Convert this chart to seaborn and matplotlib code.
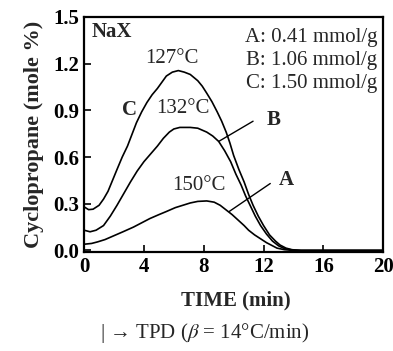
import pandas as pd
import seaborn as sns
import matplotlib.pyplot as plt

# curve readings (time in min, cyclopropane in mole %)
time_a = [0, 0.5, 0.9, 1.4, 2.0, 2.6, 3.3, 3.9, 4.4, 5.0, 5.5, 6.1, 6.6, 7.1, 7.6, 8.2, 8.7, 9.1, 9.5,
          9.9, 10.3, 10.7, 11.0, 11.4, 11.8, 12.2, 12.6, 12.9, 13.4, 14.0, 20]
cyc_a = [0.04, 0.045, 0.055, 0.07, 0.095, 0.12, 0.15, 0.18, 0.205, 0.23, 0.25, 0.275, 0.29, 0.305, 0.315,
         0.318, 0.31, 0.29, 0.26, 0.23, 0.195, 0.16, 0.13, 0.10, 0.075, 0.05, 0.03, 0.015, 0.005, 0.0, 0.0]

time_b = [0, 0.4, 0.8, 1.3, 1.75, 2.2, 2.65, 3.1, 3.55, 4.0, 4.45, 4.9, 5.3, 5.7, 6.0, 6.4, 7.1, 7.6, 8.2,
          8.6, 9.0, 9.4, 9.8, 10.15, 10.5, 10.8, 11.1, 11.45, 11.8, 12.2, 12.6, 13.0, 13.4, 13.9, 14.5, 20]
cyc_b = [0.13, 0.12, 0.13, 0.16, 0.22, 0.29, 0.365, 0.44, 0.51, 0.57, 0.62, 0.67, 0.72, 0.76, 0.78, 0.79,
         0.79, 0.785, 0.76, 0.735, 0.70, 0.64, 0.57, 0.49, 0.42, 0.35, 0.29, 0.22, 0.16, 0.105, 0.06, 0.03,
         0.012, 0.003, 0.0, 0.0]

time_c = [0, 0.3, 0.6, 1.0, 1.3, 1.6, 1.9, 2.2, 2.55, 2.9, 3.2, 3.5, 3.85, 4.2, 4.55, 4.9, 5.2, 5.5, 5.9,
          6.3, 6.7, 7.1, 7.6, 7.9, 8.2, 8.55, 8.9, 9.2, 9.5, 9.75, 10.0, 10.35, 10.7, 11.0, 11.3, 11.65,
          12.0, 12.4, 12.8, 13.1, 13.5, 13.9, 14.5, 20]
cyc_c = [0.28, 0.262, 0.265, 0.29, 0.33, 0.38, 0.45, 0.52, 0.60, 0.67, 0.745, 0.82, 0.89, 0.95, 1.00,
         1.04, 1.08, 1.12, 1.145, 1.155, 1.145, 1.13, 1.09, 1.055, 1.01, 0.955, 0.89, 0.83, 0.76, 0.69,
         0.61, 0.52, 0.44, 0.36, 0.29, 0.22, 0.16, 0.10, 0.06, 0.035, 0.015, 0.005, 0.0, 0.0]

series = ["A", "B", "C"]
loadings = ["0.41", "1.06", "1.50"]
peak_temps = ["150°C", "132°C", "127°C"]

df = pd.concat([
    pd.DataFrame({"time": time_a, "cyc": cyc_a, "sample": "A"}),
    pd.DataFrame({"time": time_b, "cyc": cyc_b, "sample": "B"}),
    pd.DataFrame({"time": time_c, "cyc": cyc_c, "sample": "C"}),
])

sns.set_style("ticks")
plt.rcParams["font.family"] = ["Liberation Serif", "DejaVu Serif"]
plt.rcParams["mathtext.fontset"] = "stix"

fig = plt.figure(figsize=(3.93, 3.51), dpi=100)
ax = fig.add_axes([0.214, 0.282, 0.761, 0.670])

sns.lineplot(data=df, x="time", y="cyc", hue="sample", units="sample", estimator=None,
             palette=["black"] * 3, linewidth=1.2, legend=False, ax=ax, sort=False)

ax.set_xlim(0, 20)
ax.set_ylim(-0.01, 1.5)
ax.set_xticks([0, 4, 8, 12, 16, 20])
ax.set_yticks([0.0, 0.3, 0.6, 0.9, 1.2, 1.5])
ax.set_yticklabels(["0.0", "0.3", "0.6", "0.9", "1.2", "1.5"])
ax.tick_params(direction="in", length=5, width=1.2, labelsize=15, colors="black")
for lab in ax.get_xticklabels() + ax.get_yticklabels():
    lab.set_fontweight("bold")
for s in ax.spines.values():
    s.set_linewidth(1.6)
    s.set_color("black")

ax.set_xlabel("")
ax.set_ylabel("Cyclopropane (mole %)", fontsize=16, fontweight="bold", labelpad=7)

# in-plot labels
ax.text(0.5, 1.40, "NaX", fontsize=15, fontweight="bold", va="center")
ax.text(5.9, 1.23, peak_temps[2], fontsize=15, ha="center", va="center")
ax.text(6.6, 0.91, peak_temps[1], fontsize=15, ha="center", va="center")
ax.text(7.7, 0.42, peak_temps[0], fontsize=15, ha="center", va="center")
ax.text(3.05, 0.90, "C", fontsize=15, fontweight="bold", ha="center", va="center")

ax.plot([9.0, 11.3], [0.70, 0.83], color="black", lw=1.0)
ax.text(12.7, 0.84, "B", fontsize=15, fontweight="bold", ha="center", va="center")
ax.plot([9.7, 12.45], [0.25, 0.43], color="black", lw=1.0)
ax.text(13.5, 0.45, "A", fontsize=15, fontweight="bold", ha="center", va="center")

for i, (s, l) in enumerate(zip(series, loadings)):
    ax.text(19.6, 1.37 - i * 0.15, f"{s}: {l} mmol/g", fontsize=15, ha="right", va="center")

fig.text(0.60, 0.145, "TIME (min)", fontsize=15, fontweight="bold", ha="center", va="center")
fig.text(0.52, 0.05, "| → TPD ($\\beta$ = 14°C/min)", fontsize=15, ha="center", va="center")

fig.savefig("out.png", dpi=100)
